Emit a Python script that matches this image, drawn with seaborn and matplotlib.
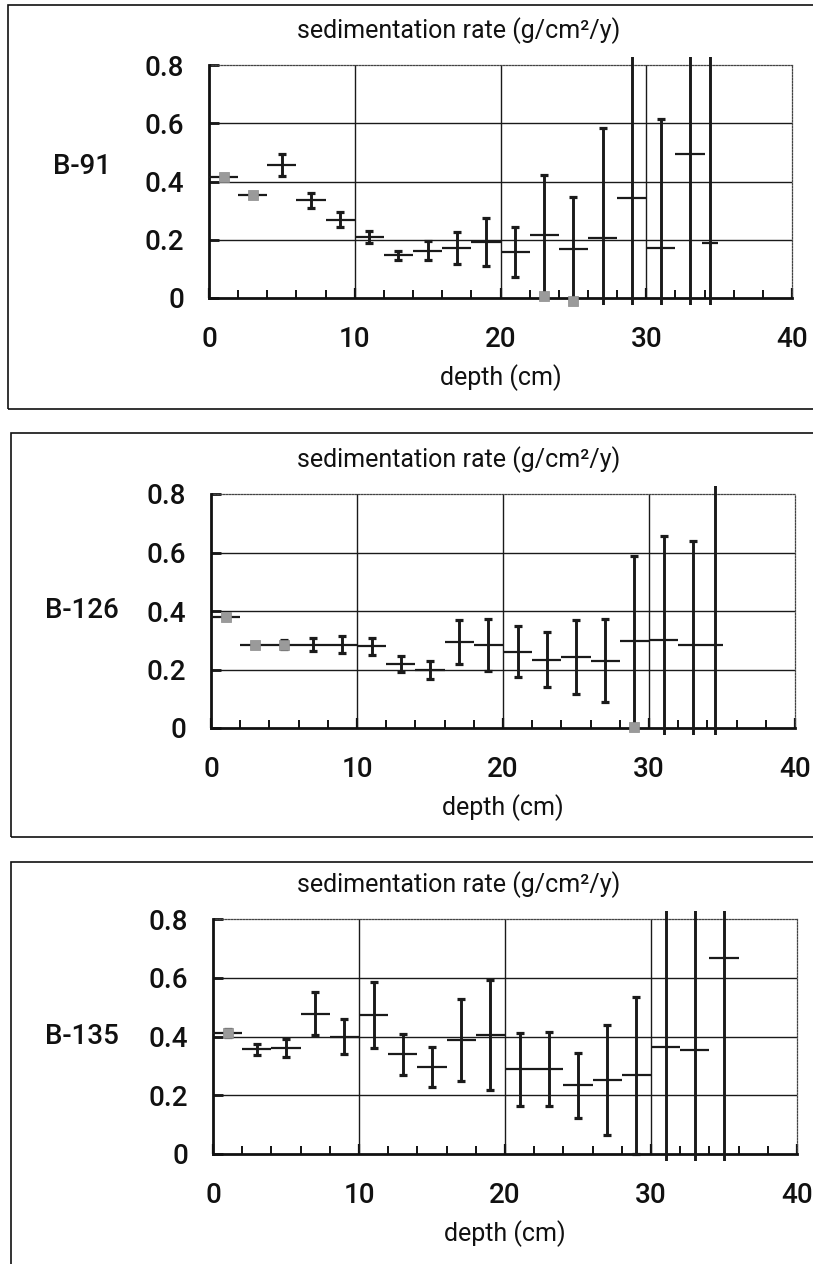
import matplotlib
matplotlib.use("Agg")
import matplotlib.pyplot as plt
import matplotlib.font_manager as fm
from matplotlib.patches import Rectangle
from matplotlib.ticker import FixedLocator, MultipleLocator, FixedFormatter
import seaborn as sns
import pandas as pd

# ---- data: sedimentation rate (g/cm2/y) versus depth (cm) for three cores ----
cores = ["B-91", "B-126", "B-135"]

depth_b91 = [1, 3, 5, 7, 9, 11, 13, 15, 17, 19, 21, 23, 25, 27, 29, 31, 33, 34.4]
rate_b91 = [0.415, 0.355, 0.457, 0.335, 0.269, 0.209, 0.146, 0.163, 0.173, 0.192,
            0.158, 0.215, 0.167, 0.206, 0.342, 0.171, 0.495, 0.188]
err_b91 = [0.008, 0.005, 0.038, 0.025, 0.025, 0.020, 0.016, 0.032, 0.055, 0.083,
           0.086, 0.208, 0.180, 0.379, 0.620, 0.443, 0.650, 0.700]
half_b91 = [1, 1, 1, 1, 1, 1, 1, 1, 1, 1, 1, 1, 1, 1, 1, 1, 1, 0.55]
grey_depth_b91 = [1, 3, 23, 25]
grey_rate_b91 = [0.415, 0.355, 0.006, -0.010]

depth_b126 = [1, 3, 5, 7, 9, 11, 13, 15, 17, 19, 21, 23, 25, 27, 29, 31, 33, 34.5]
rate_b126 = [0.381, 0.285, 0.285, 0.285, 0.285, 0.279, 0.219, 0.199, 0.294, 0.284,
             0.261, 0.234, 0.243, 0.230, 0.297, 0.301, 0.283, 0.283]
err_b126 = [0.008, 0.005, 0.015, 0.022, 0.030, 0.030, 0.028, 0.030, 0.076, 0.088,
            0.088, 0.093, 0.127, 0.141, 0.292, 0.356, 0.357, 0.700]
half_b126 = [1, 1, 1, 1, 1, 1, 1, 1, 1, 1, 1, 1, 1, 1, 1, 1, 1, 0.55]
grey_depth_b126 = [1, 3, 5, 29]
grey_rate_b126 = [0.381, 0.285, 0.285, 0.004]

depth_b135 = [1, 3, 5, 7, 9, 11, 13, 15, 17, 19, 21, 23, 25, 27, 29, 31, 33, 35]
rate_b135 = [0.412, 0.356, 0.360, 0.478, 0.399, 0.474, 0.339, 0.297, 0.388, 0.406,
             0.288, 0.288, 0.234, 0.253, 0.268, 0.365, 0.353, 0.668]
err_b135 = [0.015, 0.020, 0.030, 0.072, 0.060, 0.112, 0.070, 0.068, 0.138, 0.188,
            0.124, 0.126, 0.110, 0.187, 0.267, 0.750, 0.750, 0.800]
half_b135 = [1] * 18
grey_depth_b135 = [1]
grey_rate_b135 = [0.412]

x_ticks = [0, 10, 20, 30, 40]
x_tick_labels = ["0", "10", "20", "30", "40"]
y_ticks = [0, 0.2, 0.4, 0.6, 0.8]
y_tick_labels = ["0", "0.2", "0.4", "0.6", "0.8"]
title_text = "sedimentation rate (g/cm²/y)"
xlabel_text = "depth (cm)"

series = [
    (depth_b91, rate_b91, err_b91, half_b91, grey_depth_b91, grey_rate_b91),
    (depth_b126, rate_b126, err_b126, half_b126, grey_depth_b126, grey_rate_b126),
    (depth_b135, rate_b135, err_b135, half_b135, grey_depth_b135, grey_rate_b135),
]

# ---- styling ----
sns.set_theme(style="white")
names = {f.name for f in fm.fontManager.ttflist}
main_font = "Roboto" if "Roboto" in names else "Liberation Sans"
plt.rcParams["font.family"] = [main_font, "DejaVu Sans"]

W, H = 813, 1264
fig = plt.figure(figsize=(W / 100, H / 100), dpi=100)
fig.patch.set_facecolor("white")


def fig_rect(x0, ytop, x1, ybot):
    return [x0 / W, 1 - ybot / H, (x1 - x0) / W, (ybot - ytop) / H]


# panel geometry in pixels: axes box, outer frame, label position
panels = [
    dict(ax=(209, 65, 792, 298), frame=(8, 5, 409), label_y=166),
    dict(ax=(211, 494, 795, 728), frame=(11, 433, 837), label_y=610),
    dict(ax=(213, 919, 797, 1154), frame=(11, 862, 1300), label_y=1037),
]

ink = "#1a1a1a"

for name, (depth, rate, err, half, gdep, grate), geo in zip(cores, series, panels):
    x0, ytop, x1, ybot = geo["ax"]
    fx, ftop, fbot = geo["frame"]

    # outer frame around each panel
    fig.patches.append(Rectangle((fx / W, 1 - fbot / H), (W + 20 - fx) / W, (fbot - ftop) / H,
                                 transform=fig.transFigure, fill=False,
                                 edgecolor="#111111", linewidth=1.2, zorder=0))

    ax = fig.add_axes(fig_rect(x0, ytop, x1, ybot))
    ax.set_xlim(0, 40)
    ax.set_ylim(0, 0.8)
    ax.set_facecolor("white")

    # interior gridlines
    for yv in y_ticks[1:-1]:
        ax.axhline(yv, color="#1a1a1a", lw=1.0, zorder=1)
    for xv in x_ticks[1:-1]:
        ax.axvline(xv, color="#1a1a1a", lw=1.0, zorder=1)

    # spines: solid left/bottom, dotted top/right
    for side in ("left", "bottom"):
        ax.spines[side].set_color("#111111")
        ax.spines[side].set_linewidth(2.0)
        ax.spines[side].set_zorder(4)
    for side in ("top", "right"):
        ax.spines[side].set_color("#444444")
        ax.spines[side].set_linewidth(0.9)
        ax.spines[side].set_linestyle((0, (1.2, 1.2)))

    ax.xaxis.set_major_locator(FixedLocator(x_ticks))
    ax.xaxis.set_major_formatter(FixedFormatter(x_tick_labels))
    ax.xaxis.set_minor_locator(MultipleLocator(2))
    ax.yaxis.set_major_locator(FixedLocator(y_ticks))
    ax.yaxis.set_major_formatter(FixedFormatter(y_tick_labels))
    ax.tick_params(axis="x", which="major", direction="in", length=7, width=1.6,
                   color="#111111", pad=20, labelsize=20, bottom=True, left=False)
    ax.tick_params(axis="x", which="minor", direction="in", length=6, width=1.4,
                   color="#111111", bottom=True)
    ax.tick_params(axis="y", which="major", direction="in", length=7, width=2.0,
                   color="#111111", pad=18, labelsize=20, left=True)
    for lab in ax.get_xticklabels() + ax.get_yticklabels():
        lab.set_color("#111111")
        lab.set_fontweight("medium")

    clip = Rectangle((0, -0.028), 1, 1.063, transform=ax.transAxes)

    # horizontal depth-interval bars
    hb = ax.errorbar(depth, rate, xerr=half, fmt="none", ecolor=ink,
                     elinewidth=1.6, capsize=0, zorder=5)
    # vertical uncertainty bars with caps
    vb = ax.errorbar(depth, rate, yerr=err, fmt="none", ecolor=ink,
                     elinewidth=2.1, capsize=2.7, capthick=2.3, zorder=6)
    for cont in (hb, vb):
        for art in list(cont.lines[1]) + list(cont.lines[2]):
            art.set_clip_path(clip)

    grey = pd.DataFrame({"depth": gdep, "rate": grate})
    sns.scatterplot(data=grey, x="depth", y="rate", ax=ax, marker="s", s=55,
                    color="#9a9a9a", edgecolor="#8a8a8a", linewidth=0.5,
                    zorder=7, clip_on=False, legend=False)
    ax.set_xlabel("")
    ax.set_ylabel("")

    # title, x label and core name
    fig.text(459 / W, 1 - (ytop - 34) / H, title_text, ha="center", va="center",
             fontsize=18, color="#111111")
    fig.text(((x0 + x1) / 2) / W, 1 - (ybot + 80) / H, xlabel_text, ha="center",
             va="center", fontsize=18, color="#111111")
    fig.text(82 / W, 1 - geo["label_y"] / H, name, ha="center", va="center",
             fontsize=20, fontweight="medium", color="#111111")

fig.savefig("out.png", dpi=100, facecolor="white")
